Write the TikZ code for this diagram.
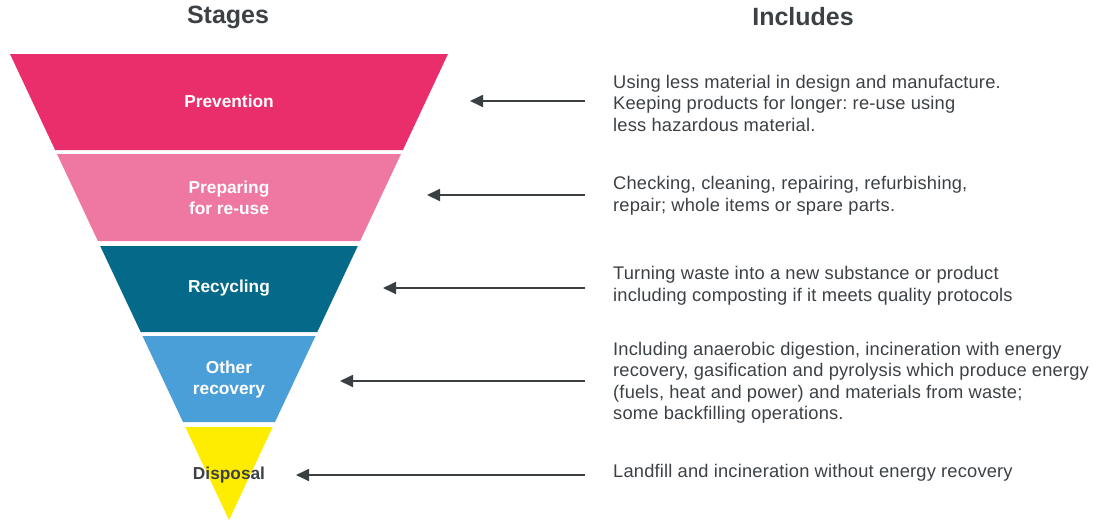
\documentclass[tikz,border=0pt]{standalone}
\usepackage{fontspec}
\setmainfont{Liberation Sans}
\newfontfamily\descfont[LetterSpace=1]{Liberation Sans}
\usetikzlibrary{arrows.meta}
\frenchspacing
\definecolor{cPrev}{HTML}{EA2E6B}
\definecolor{cPrep}{HTML}{EE78A2}
\definecolor{cRecy}{HTML}{05698A}
\definecolor{cOther}{HTML}{4B9FD9}
\definecolor{cDisp}{HTML}{FFED00}
\definecolor{cText}{HTML}{3C4145}
\definecolor{cArrow}{HTML}{3A3F42}
\tikzset{
  header/.style={font=\fontsize{25}{28}\selectfont\bfseries, text=cText, inner sep=0pt},
  bandlabel/.style={font=\fontsize{17.3}{21}\selectfont\bfseries, text=white, align=center, inner sep=0pt},
  desc/.style={font=\descfont\fontsize{18.3}{21.5}\selectfont\frenchspacing, text=cText, align=left, anchor=west, inner sep=0pt},
  pointer/.style={draw=cArrow, line width=1.8pt, -{Triangle[length=13pt,width=12pt]}},
}
\begin{document}
\begin{tikzpicture}[x=1pt,y=-1pt]
\useasboundingbox (0,0) rectangle (1097,522);
% bands of the inverted triangle
\fill[cPrev]  (10,54) -- (448,54) -- (402.9,150) -- (55.1,150) -- cycle;
\fill[cPrep]  (57,154) -- (401,154) -- (360.1,241) -- (97.9,241) -- cycle;
\fill[cRecy]  (100.2,246) -- (357.8,246) -- (317.3,332) -- (140.7,332) -- cycle;
\fill[cOther] (142.5,336) -- (315.5,336) -- (275,422) -- (183,422) -- cycle;
\fill[cDisp]  (185.3,427) -- (272.7,427) -- (229,520) -- cycle;
% headers
\node[header] (hstages) at (228,17) {Stages};
\node[header] (hincl) at (803,17) {Includes};
% band labels
\node[bandlabel] (lprev) at (229,101) {Prevention};
\node[bandlabel] (lprep) at (229,198) {Preparing\\for re-use};
\node[bandlabel] (lrecy) at (229,288) {Recycling};
\node[bandlabel] (loth) at (229,380) {Other\\recovery};
\node[bandlabel, text=cText] (ldisp) at (229,475) {Disposal};
% descriptions
\node[desc] (dprev) at (613,103) {Using less material in design and manufacture.\\Keeping products for longer: re-use using\\less hazardous material.};
\node[desc] (dprep) at (613,196) {Checking, cleaning, repairing, refurbishing,\\repair; whole items or spare parts.};
\node[desc] (drecy) at (613,286) {Turning waste into a new substance or product\\including composting if it meets quality protocols};
\node[desc] (doth) at (613,383) {Including anaerobic digestion, incineration with energy\\recovery, gasification and pyrolysis which produce energy\\(fuels, heat and power) and materials from waste;\\some backfilling operations.};
\node[desc] (ddisp) at (613,473) {Landfill and incineration without energy recovery};
% arrow ends
\coordinate (sprev) at (585,101); \coordinate (tprev) at (470,101);
\coordinate (sprep) at (585,195); \coordinate (tprep) at (427,195);
\coordinate (srecy) at (585,288); \coordinate (trecy) at (383,288);
\coordinate (soth) at (585,381);  \coordinate (toth) at (340,381);
\coordinate (sdisp) at (585,475); \coordinate (tdisp) at (296,475);
\draw[pointer] (sprev) -- (tprev);
\draw[pointer] (sprep) -- (tprep);
\draw[pointer] (srecy) -- (trecy);
\draw[pointer] (soth) -- (toth);
\draw[pointer] (sdisp) -- (tdisp);
\end{tikzpicture}
\end{document}
